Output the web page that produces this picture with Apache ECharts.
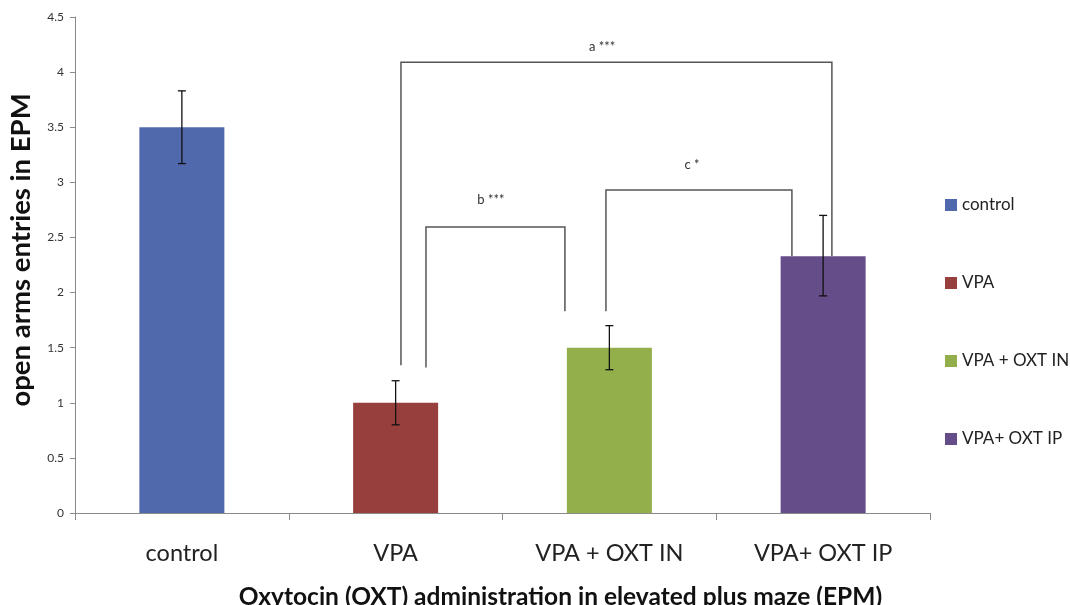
<!DOCTYPE html>
<html><head><meta charset="utf-8">
<script src="https://cdn.jsdelivr.net/npm/echarts@6/dist/echarts.min.js"></script>
<style>html,body{margin:0;padding:0;background:#fff}#c{width:1070px;height:605px}</style>
</head><body><div id="c"></div>
<script>
const categories = ['control', 'VPA', 'VPA + OXT IN', 'VPA+ OXT IP'];
const seriesNames = ['control', 'VPA', 'VPA + OXT IN', 'VPA+ OXT IP'];
const means = [3.5, 1.0, 1.5, 2.33];
const errLow = [3.17, 0.80, 1.30, 1.97];
const errHigh = [3.83, 1.20, 1.70, 2.70];
const yTicks = ['0', '0.5', '1', '1.5', '2', '2.5', '3', '3.5', '4', '4.5'];
// brackets: [xLeft, yLeftBottom, xRight, yRightBottom, yTop, labelX, labelY, label] (x in category units)
const bracketA = [1.025, 1.34, 3.041, 2.33, 4.09, 1.966, 4.23, 'a ***'];
const bracketB = [1.142, 1.32, 1.792, 1.83, 2.595, 1.446, 2.84, 'b ***'];
const bracketC = [1.984, 1.83, 2.854, 2.33, 2.93, 2.387, 3.16, 'c *'];
const brackets = [bracketA, bracketB, bracketC];

const colors = ['#5068AC', '#963F3D', '#92AF4B', '#654D8A'];
const FONT = 'Lato';

const barSeries = seriesNames.map((name, i) => ({
  name: name,
  type: 'bar',
  barWidth: 85,
  barGap: '-100%',
  itemStyle: { color: colors[i] },
  data: means.map((v, j) => (j === i ? v : null)),
  silent: true
}));

const option = {
  animation: false,
  color: colors,
  grid: { left: 75, right: 140, top: 17, bottom: 92, containLabel: false, outerBoundsMode: 'none' },
  legend: {
    data: seriesNames,
    orient: 'vertical',
    left: 940,
    top: 190,
    icon: 'rect',
    itemWidth: 12,
    itemHeight: 12,
    itemGap: 58,
    textStyle: { fontFamily: FONT, fontSize: 17, color: '#222', lineHeight: 20 }
  },
  xAxis: [{
    type: 'category',
    data: categories,
    axisLine: { lineStyle: { color: '#8a8a8a', width: 1 } },
    axisTick: { show: true, length: 7, lineStyle: { color: '#8a8a8a' } },
    axisLabel: { fontFamily: FONT, fontSize: 23.5, color: '#222', margin: 28 },
    name: 'Oxytocin (OXT) administration in elevated plus maze (EPM)',
    nameLocation: 'middle',
    nameGap: 72,
    nameTextStyle: { fontFamily: FONT, fontSize: 24.5, fontWeight: 'bold', color: '#111', padding: [0, 0, 0, 116] }
  }, {
    type: 'value', min: -0.5, max: 3.5, show: false
  }],
  yAxis: {
    type: 'value',
    min: 0, max: 4.5, interval: 0.5,
    axisLine: { show: true, onZero: false, lineStyle: { color: '#8a8a8a' } },
    axisTick: { show: true, length: 5, lineStyle: { color: '#8a8a8a' } },
    splitLine: { show: false },
    axisLabel: {
      fontFamily: FONT, fontSize: 12, color: '#333', margin: 11,
      formatter: (v) => yTicks[Math.round(v / 0.5)] || ''
    },
    name: 'open arms entries in EPM',
    nameLocation: 'middle',
    nameGap: 40,
    nameTextStyle: { fontFamily: FONT, fontSize: 27.5, fontWeight: 'bold', color: '#111', padding: [0, 0, 0, 30] }
  },
  series: barSeries.concat([
    {
      type: 'custom',
      name: 'err',
      silent: true,
      data: means.map((m, i) => [i, errLow[i], errHigh[i]]),
      renderItem: (params, api) => {
        const lo = api.coord([api.value(0), api.value(1)]);
        const hi = api.coord([api.value(0), api.value(2)]);
        const x = lo[0], cap = 4;
        const st = { stroke: '#111', lineWidth: 1.3 };
        return { type: 'group', children: [
          { type: 'line', shape: { x1: x, y1: lo[1], x2: x, y2: hi[1] }, style: st },
          { type: 'line', shape: { x1: x - cap, y1: lo[1], x2: x + cap, y2: lo[1] }, style: st },
          { type: 'line', shape: { x1: x - cap, y1: hi[1], x2: x + cap, y2: hi[1] }, style: st }
        ]};
      },
      z: 5
    },
    {
      type: 'custom',
      name: 'brackets',
      silent: true,
      xAxisIndex: 1,
      data: brackets.map((b, i) => [b[0], b[1], b[2], b[3], b[4], b[5], b[6], i]),
      renderItem: (params, api) => {
        const b = brackets[params.dataIndex];
        const p1 = api.coord([b[0], b[1]]);
        const p2 = api.coord([b[0], b[4]]);
        const p3 = api.coord([b[2], b[4]]);
        const p4 = api.coord([b[2], b[3]]);
        const pl = api.coord([b[5], b[6]]);
        return { type: 'group', children: [
          { type: 'polyline', shape: { points: [p1, p2, p3, p4] },
            style: { stroke: '#555', lineWidth: 1.5, fill: null } },
          { type: 'text', x: pl[0], y: pl[1],
            style: { text: b[7], fontFamily: FONT, fontSize: 13, fill: '#333', align: 'center', verticalAlign: 'middle' } }
        ]};
      },
      z: 6
    }
  ])
};

const chart = echarts.init(document.getElementById('c'), null, { renderer: 'canvas' });
chart.setOption(option);
</script>
</body></html>
